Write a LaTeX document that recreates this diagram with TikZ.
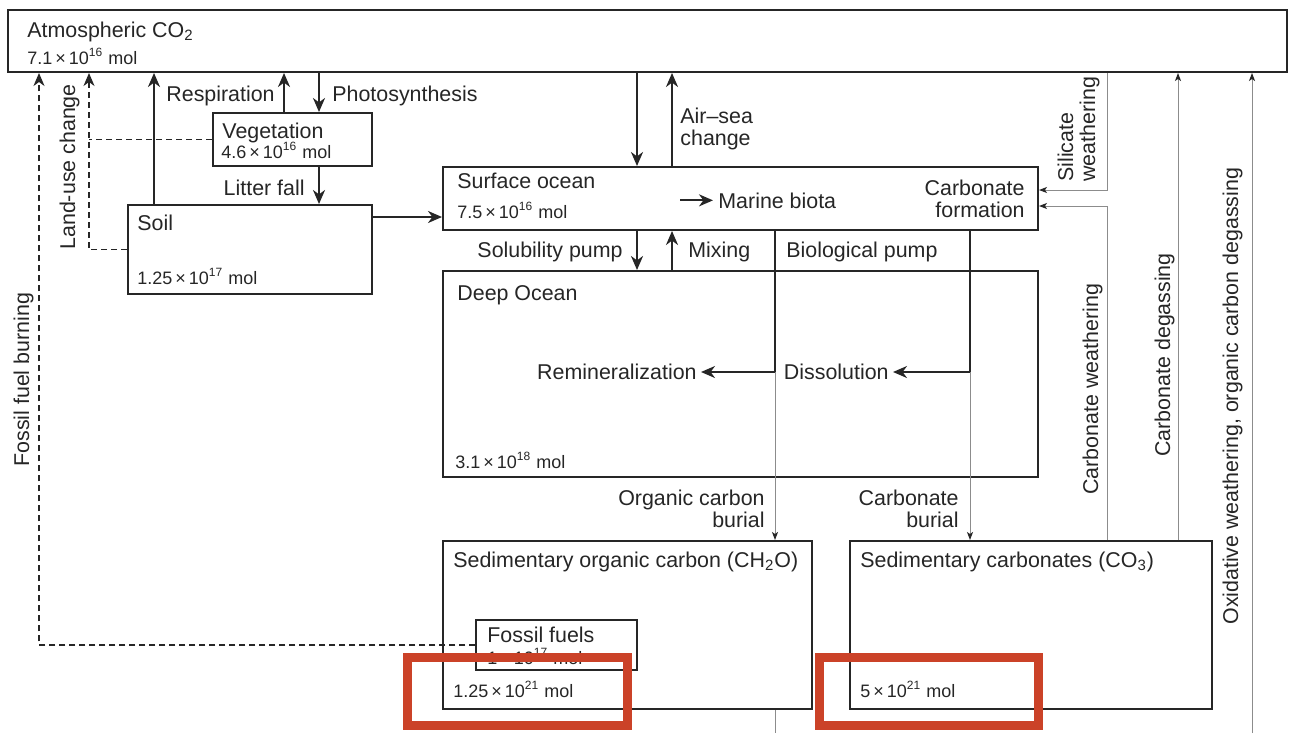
\documentclass[tikz,border=0pt]{standalone}
\usepackage{fontspec}
\setmainfont{Liberation Sans}
\usetikzlibrary{arrows.meta,fit}
\definecolor{ink}{RGB}{38,38,38}
\definecolor{thingray}{RGB}{140,140,140}
\definecolor{hlred}{RGB}{203,66,40}
\begin{document}
\begin{tikzpicture}[x=0.5pt,y=-0.5pt,
  box/.style={draw=ink,line width=1pt,inner sep=0pt},
  smallbox/.style={draw=ink,line width=0.7pt,inner sep=0pt},
  lbl/.style={font=\fontsize{10.7}{13}\selectfont,text=ink,inner sep=0pt},
  val/.style={font=\fontsize{9}{11}\selectfont,text=ink,inner sep=0pt},
  flow/.style={draw=ink,line width=1pt,-{Stealth[length=7pt,width=6pt,inset=2.2pt]}},
  thinflow/.style={draw=thingray,line width=0.5pt,-{Stealth[length=4pt,width=3pt,inset=1pt,color=ink]}},
  thinline/.style={draw=thingray,line width=0.5pt},
  dashline/.style={draw=ink,line width=0.6pt,dash pattern=on 3pt off 2pt},
  dashflow/.style={dashline,-{Stealth[length=6.5pt,width=5.5pt,inset=2pt]}},
  hl/.style={draw=hlred,line width=4.6pt,inner sep=0pt}
]
\fill[white] (0,0) rectangle (1294,733);

% ---------- boxes ----------
\path (8,10) coordinate (atmA) (1287,72) coordinate (atmB);
\node[box,fit=(atmA)(atmB)] (atm) {};
\path (213,113) coordinate (vegA) (372,166) coordinate (vegB);
\node[box,fit=(vegA)(vegB)] (veg) {};
\path (128,205) coordinate (soilA) (372,294) coordinate (soilB);
\node[box,fit=(soilA)(soilB)] (soil) {};
\path (443,167) coordinate (surfA) (1038,230) coordinate (surfB);
\node[box,fit=(surfA)(surfB)] (surf) {};
\path (443,271) coordinate (deepA) (1038,477) coordinate (deepB);
\node[box,fit=(deepA)(deepB)] (deep) {};
\path (443,541) coordinate (sorgA) (812,709) coordinate (sorgB);
\node[box,fit=(sorgA)(sorgB)] (sedorg) {};
\path (476,620) coordinate (ffA) (637,670) coordinate (ffB);
\node[smallbox,fit=(ffA)(ffB)] (ff) {};
\path (850,541) coordinate (scA) (1212,709) coordinate (scB);
\node[box,fit=(scA)(scB)] (sedcarb) {};

% ---------- box texts ----------
\node[lbl,anchor=base west] (atmT) at (27,37) {Atmospheric CO\textsubscript{2}};
\node[val,anchor=base west] (atmV) at (27,64) {7.1\,×\,10\textsuperscript{16} mol};
\node[lbl,anchor=base west] (vegT) at (222,138) {Vegetation};
\node[val,anchor=base west] (vegV) at (221,158) {4.6\,×\,10\textsuperscript{16} mol};
\node[lbl,anchor=base west] (soilT) at (137,230) {Soil};
\node[val,anchor=base west] (soilV) at (137,284) {1.25\,×\,10\textsuperscript{17} mol};
\node[lbl,anchor=base west] (surfT) at (457,188) {Surface ocean};
\node[val,anchor=base west] (surfV) at (457,218) {7.5\,×\,10\textsuperscript{16} mol};
\node[lbl,anchor=base west] (marine) at (718,208) {Marine biota};
\node[lbl,anchor=base east] (cf1) at (1025,195) {Carbonate};
\node[lbl,anchor=base east] (cf2) at (1025,217) {formation};
\node[lbl,anchor=base west] (deepT) at (457,300) {Deep Ocean};
\node[val,anchor=base west] (deepV) at (455,468) {3.1\,×\,10\textsuperscript{18} mol};
\node[lbl,anchor=east] (remin) at (697,372) {Remineralization};
\node[lbl,anchor=east] (diss) at (889,372) {Dissolution};
\node[lbl,anchor=base west] (sorgT) at (453,567) {Sedimentary organic carbon (CH\textsubscript{2}O)};
\node[lbl,anchor=base west] (ffT) at (487,642) {Fossil fuels};
\node[val,anchor=base west] (ffV) at (487,664) {1\,×\,10\textsuperscript{17} mol};
\node[val,anchor=base west] (sorgV) at (453,697) {1.25\,×\,10\textsuperscript{21} mol};
\node[lbl,anchor=base west] (scT) at (860,567) {Sedimentary carbonates (CO\textsubscript{3})};
\node[val,anchor=base west] (scV) at (860,697) {5\,×\,10\textsuperscript{21} mol};

% ---------- flow labels ----------
\node[lbl,anchor=base west] (resp) at (166,101) {Respiration};
\node[lbl,anchor=base west] (photo) at (332,101) {Photosynthesis};
\node[lbl,anchor=base east] (litter) at (305,195) {Litter fall};
\node[lbl,anchor=base west] (as1) at (680,123) {Air–sea};
\node[lbl,anchor=base west] (as2) at (680,145) {change};
\node[lbl,anchor=base east] (solub) at (623,257) {Solubility pump};
\node[lbl,anchor=base west] (mix) at (688,257) {Mixing};
\node[lbl,anchor=base west] (biop) at (786,257) {Biological pump};
\node[lbl,anchor=base east] (ocb1) at (765,505) {Organic carbon};
\node[lbl,anchor=base east] (ocb2) at (765,527) {burial};
\node[lbl,anchor=base east] (cb1) at (959,505) {Carbonate};
\node[lbl,anchor=base east] (cb2) at (959,527) {burial};
\node[lbl,rotate=90,anchor=base west] (ffb) at (29,467) {Fossil fuel burning};
\node[lbl,rotate=90,anchor=base west] (luc) at (75,250) {Land-use change};
\node[lbl,rotate=90,anchor=base west] (sw1) at (1073,182) {Silicate};
\node[lbl,rotate=90,anchor=base west] (sw2) at (1095,182) {weathering};
\node[lbl,rotate=90,anchor=base west] (cw) at (1098,495) {Carbonate weathering};
\node[lbl,rotate=90,anchor=base west] (cd) at (1170,457) {Carbonate degassing};
\node[lbl,rotate=90,anchor=base west] (ox) at (1238,625) {Oxidative weathering, organic carbon degassing};

% ---------- helper coordinates ----------
\coordinate (xSR) at (154,0);
\coordinate (xVR) at (284,0);
\coordinate (xPh) at (319,0);
\coordinate (xAd) at (637,0);
\coordinate (xAu) at (672,0);
\coordinate (xBio) at (775,0);
\coordinate (xCarb) at (970,0);
\coordinate (xSil) at (1107,0);
\coordinate (xDeg) at (1178,0);
\coordinate (xOx) at (1252,0);
\coordinate (xFF) at (39,0);
\coordinate (xLU) at (89,0);
\coordinate (ySoil) at (0,217);
\coordinate (ySil) at (0,190);
\coordinate (yCW) at (0,206);
\coordinate (yBot) at (0,733);

% ---------- solid flows ----------
\draw[flow] (soil.north -| xSR) -- (atm.south -| xSR);
\draw[flow] (veg.north -| xVR) -- (atm.south -| xVR);
\draw[flow] (atm.south -| xPh) -- (veg.north -| xPh);
\draw[flow] (veg.south -| xPh) -- (soil.north -| xPh);
\draw[flow] (soil.east |- ySoil) -- (surf.west |- ySoil);
\draw[flow] (atm.south -| xAd) -- (surf.north -| xAd);
\draw[flow] (surf.north -| xAu) -- (atm.south -| xAu);
\draw[flow] (surf.south -| xAd) -- (deep.north -| xAd);
\draw[flow] (deep.north -| xAu) -- (surf.south -| xAu);
\draw[flow] ([xshift=-19pt]marine.west) -- ([xshift=-2.5pt]marine.west);
\draw[flow] (surf.south -| xBio) |- ([xshift=2pt]remin.east);
\draw[flow] (surf.south -| xCarb) |- ([xshift=2pt]diss.east);

% ---------- thin flows ----------
\draw[thinflow] (xBio |- remin.east) -- (sedorg.north -| xBio);
\draw[thinline] (sedorg.south -| xBio) -- (xBio |- yBot);
\draw[thinflow] (xCarb |- diss.east) -- (sedcarb.north -| xCarb);
\draw[thinflow] (atm.south -| xSil) |- (surf.east |- ySil);
\draw[thinflow] (sedcarb.north -| xSil) |- (surf.east |- yCW);
\draw[thinflow] (sedcarb.north -| xDeg) -- (atm.south -| xDeg);
\draw[thinflow] (xOx |- yBot) -- (atm.south -| xOx);

% ---------- dashed flows ----------
\draw[dashflow] (ff.west) -| (atm.south -| xFF);
\draw[dashflow] (soil.west) -| (atm.south -| xLU);
\draw[dashline] (veg.west) -- (veg.west -| xLU);

% ---------- highlight rectangles ----------
\path (407.5,657.5) coordinate (h1a) (627.5,725.5) coordinate (h1b);
\node[hl,fit=(h1a)(h1b)] (hl1) {};
\path (819.5,657.5) coordinate (h2a) (1038.5,725.5) coordinate (h2b);
\node[hl,fit=(h2a)(h2b)] (hl2) {};
\end{tikzpicture}
\end{document}
